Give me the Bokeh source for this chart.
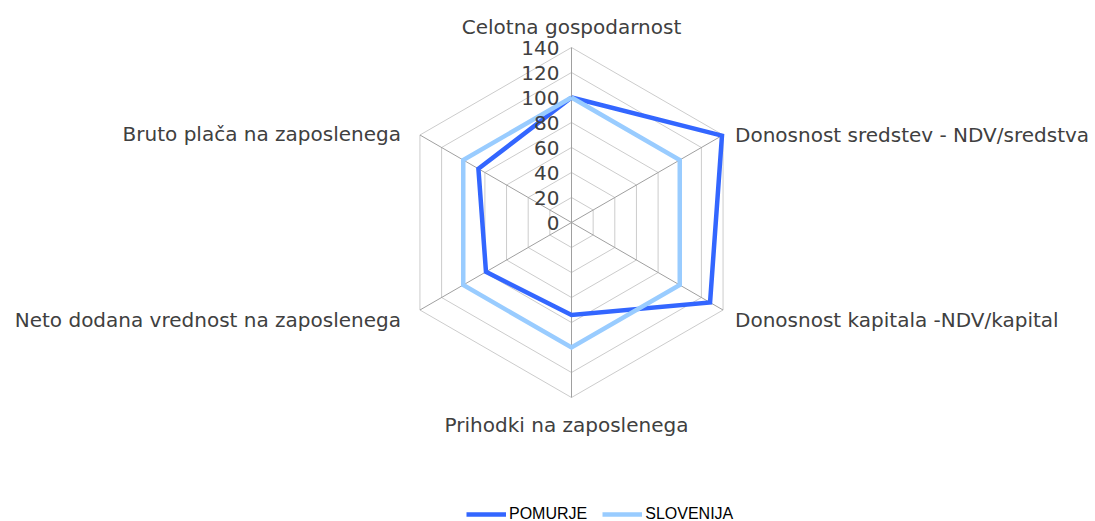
import numpy as np
from bokeh.plotting import figure
from bokeh.models import Range1d, ColumnDataSource, Legend, LegendItem
from bokeh.core.properties import value
from bokeh.embed import file_html
from bokeh.resources import INLINE

categories = [
    "Celotna gospodarnost",
    "Donosnost sredstev - NDV/sredstva",
    "Donosnost kapitala -NDV/kapital",
    "Prihodki na zaposlenega",
    "Neto dodana vrednost na zaposlenega",
    "Bruto plača na zaposlenega",
]
pomurje = [100, 139, 128, 74, 79, 86]
slovenija = [100, 100, 100, 100, 100, 100]
series_names = ["POMURJE", "SLOVENIJA"]
tick_values = [0, 20, 40, 60, 80, 100, 120, 140]
tick_labels = ["0", "20", "40", "60", "80", "100", "120", "140"]

W, H = 1095, 521
CX, CY = 571.0, 222.0
RMAX = 140.0
RPX = 175.0
SCALE = RPX / RMAX
FONT = "DejaVu Sans"
FSIZE = "20px"

n = len(categories)
angles = np.deg2rad(90.0 - 360.0 / n * np.arange(n))


def to_xy(vals):
    v = np.asarray(vals, dtype=float)
    xs = CX + v * SCALE * np.cos(angles)
    ys = CY - v * SCALE * np.sin(angles)
    return list(xs) + [xs[0]], list(ys) + [ys[0]]


p = figure(width=W, height=H, output_backend="svg", toolbar_location=None,
           x_range=Range1d(0, W), y_range=Range1d(H, 0),
           min_border=0, outline_line_color=None)
p.axis.visible = False
p.grid.visible = False
p.background_fill_color = "white"
p.border_fill_color = "white"

# rings
ring_xs, ring_ys = [], []
for t in tick_values[1:]:
    xs, ys = to_xy([t] * n)
    ring_xs.append(xs)
    ring_ys.append(ys)
p.multi_line(ring_xs, ring_ys, line_color="#cccccc", line_width=1)

# spokes
sx, sy = to_xy([RMAX] * n)
spoke_xs = [[CX, sx[i]] for i in range(n)]
spoke_ys = [[CY, sy[i]] for i in range(n)]
p.multi_line(spoke_xs, spoke_ys, line_color="#a0a0a0", line_width=1)

# series
px_, py_ = to_xy(pomurje)
r1 = p.line(px_, py_, line_color="#3366ff", line_width=4.5, line_join="miter")
qx_, qy_ = to_xy(slovenija)
r2 = p.line(qx_, qy_, line_color="#99ccff", line_width=4.5, line_join="miter")

# tick labels
tsrc = ColumnDataSource(dict(
    x=[CX - 12] * len(tick_values),
    y=[CY - v * SCALE for v in tick_values],
    t=tick_labels,
))
p.text("x", "y", text="t", source=tsrc, text_align="right", text_baseline="middle",
       text_font=value(FONT), text_font_size=FSIZE, text_color="#404040")

# category labels
offsets = [(0, -21, "center"), (12, 0, "left"), (12, 10, "left"),
           (-5, 27, "center"), (-19, 10, "right"), (-19, -1, "right")]
lx, ly = to_xy([RMAX] * n)
for i, cat in enumerate(categories):
    dx, dy, al = offsets[i]
    p.text(x=[lx[i] + dx], y=[ly[i] + dy], text=[cat], text_align=al,
           text_baseline="middle", text_font=value(FONT), text_font_size=FSIZE,
           text_color="#404040")

legend = Legend(items=[LegendItem(label=series_names[0], renderers=[r1]),
                       LegendItem(label=series_names[1], renderers=[r2])],
                orientation="horizontal", location=(466, -3),
                glyph_width=40, glyph_height=20, label_height=20,
                label_standoff=3, spacing=15, padding=0, margin=0,
                border_line_color=None, background_fill_alpha=0,
                label_text_font="Liberation Sans", label_text_font_size="16px",
                label_text_color="#000000")
p.add_layout(legend)

open("out.html", "w").write(file_html(p, INLINE))
